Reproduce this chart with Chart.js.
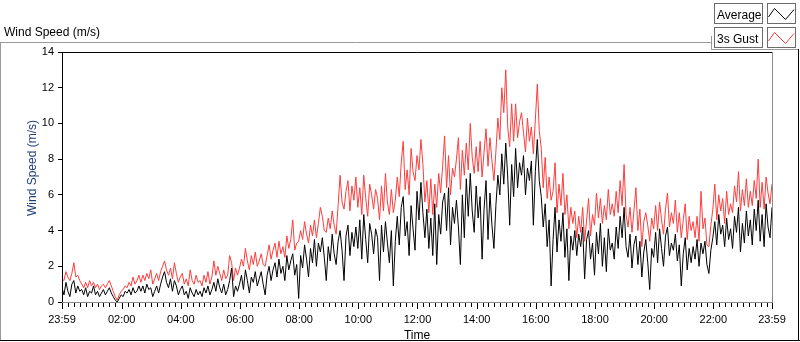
<!DOCTYPE html>
<html>
<head>
<meta charset="utf-8">
<title>Wind Speed (m/s)</title>
<script src="https://cdn.jsdelivr.net/npm/chart.js@4.4.1/dist/chart.umd.min.js"></script>
<style>
  html, body { margin: 0; padding: 0; background: #fff; }
  #wrap { width: 800px; height: 342px; }
</style>
</head>
<body>
<div id="wrap"><canvas id="windChart" width="800" height="342"></canvas></div>
<script>
// one sample every 4 minutes, starting at 23:59 of the previous day
const STEP_MIN = 4;
const MINOR_MIN = 12;

const avgSpeed = [
    0.8, 0.4, 1.1, 0.6, 0.3, 1.0, 1.2, 0.5, 0.9, 0.6,
    0.7, 0.4, 0.8, 0.3, 0.6, 0.5, 0.9, 0.4, 0.6, 0.3,
    0.5, 0.7, 0.4, 0.6, 0.8, 0.5, 0.3, 0.1, 0.0, 0.2,
    0.4, 0.3, 0.6, 0.5, 0.7, 0.4, 0.8, 0.5, 0.6, 0.9,
    0.6, 0.9, 0.5, 1.0, 0.7, 0.8, 0.3, 0.6, 0.9, 0.5,
    1.0, 1.4, 1.7, 1.1, 0.8, 1.3, 0.6, 1.2, 0.9, 0.4,
    0.7, 0.9, 0.4, 0.6, 0.2, 0.8, 0.5, 0.3, 0.7, 0.4,
    0.6, 0.3, 0.8, 0.5, 0.9, 0.4, 0.7, 1.1, 0.6, 1.3,
    0.8, 0.5, 1.0, 0.4, 0.7, 1.2, 1.9, 0.3, 0.9, 0.6,
    1.0, 1.5, 0.7, 1.8, 1.2, 0.5, 1.4, 1.1, 1.7, 0.9,
    1.3, 1.7, 1.0, 0.4, 1.5, 2.0, 1.2, 1.8, 2.2, 1.4,
    2.4, 1.6, 2.0, 1.2, 2.6, 1.8, 2.3, 2.7, 1.5, 2.1,
    0.2, 2.6, 1.9, 3.2, 2.4, 1.4, 3.0, 2.2, 3.5, 2.0,
    3.3, 2.8, 3.6, 2.5, 1.2, 3.1, 2.3, 3.8, 2.7, 2.1,
    3.4, 4.0, 2.9, 1.2, 3.7, 4.3, 2.6, 3.9, 3.1, 4.2,
    3.0, 4.6, 2.4, 4.9, 3.5, 2.2, 4.4, 3.8, 2.7, 4.1,
    3.6, 1.2, 4.3, 2.8, 4.5, 3.3, 2.2, 4.0, 0.9, 3.4,
    4.8, 3.2, 5.3, 5.9, 3.7, 4.5, 2.6, 5.4, 4.1, 2.9,
    6.2, 4.6, 6.7, 5.0, 3.6, 5.2, 3.0, 4.7, 2.6, 5.5,
    2.1, 4.9, 3.8, 5.6, 6.1, 4.0, 6.4, 3.2, 5.3, 4.4,
    5.7, 4.2, 2.1, 6.0, 3.6, 6.9, 4.8, 7.2, 5.1, 3.9,
    6.5, 4.7, 5.9, 2.4, 5.2, 6.8, 3.5, 6.1, 4.3, 3.0,
    5.4, 7.1, 6.0, 8.3, 6.6, 8.9, 7.0, 4.3, 7.7, 5.9,
    8.6, 6.4, 7.8, 7.1, 8.2, 6.0, 7.5, 6.8, 7.9, 4.3,
    7.3, 9.1, 6.8, 5.9, 4.2, 5.5, 3.1, 4.6, 0.9, 3.5,
    5.3, 2.8, 4.6, 3.4, 5.0, 2.5, 4.1, 1.2, 3.7, 2.9,
    4.0, 2.6, 3.8, 3.1, 4.2, 1.3, 3.5, 4.0, 2.4, 3.3,
    1.5, 3.9, 2.7, 4.4, 2.0, 3.6, 1.7, 4.1, 2.9, 3.3,
    2.4, 4.2, 3.0, 4.8, 3.6, 5.3, 3.1, 2.5, 3.8, 1.9,
    3.2, 3.7, 2.1, 3.4, 1.4, 2.8, 3.5, 2.2, 0.7, 3.0,
    2.5, 3.9, 2.2, 4.1, 3.0, 2.0, 3.7, 4.2, 2.6, 3.3,
    2.9, 3.8, 2.3, 3.2, 0.9, 2.7, 3.6, 1.8, 3.0, 2.2,
    3.1, 2.4, 3.5, 2.0, 3.3, 2.7, 3.4, 2.1, 1.6, 2.9,
    3.6, 4.5, 3.2, 4.9, 3.8, 4.3, 3.1, 4.7, 3.5, 4.1,
    3.0, 4.8, 3.9, 5.3, 2.8, 4.4, 3.3, 5.1, 3.7, 4.6,
    3.2, 5.2, 4.0, 5.7, 3.4, 4.9, 3.1, 5.5, 4.2, 3.6, 5.3
];

const gustSpeed = [
    1.3, 1.2, 1.7, 1.4, 1.2, 1.6, 2.2, 1.4, 1.5, 1.2,
    1.0, 0.8, 1.1, 0.8, 1.2, 0.9, 1.1, 0.8, 1.0, 0.7,
    0.9, 1.0, 0.8, 1.0, 1.2, 0.9, 0.6, 0.3, 0.1, 0.4,
    0.6, 0.7, 0.9, 0.8, 1.1, 0.9, 1.4, 1.0, 1.2, 1.5,
    1.1, 1.5, 1.2, 1.6, 1.3, 1.8, 1.0, 1.3, 1.6, 1.2,
    1.7, 2.0, 2.3, 1.8, 1.5, 1.9, 1.3, 2.2, 1.6, 1.1,
    1.4, 1.6, 1.0, 1.3, 0.9, 1.8, 1.2, 1.0, 1.5, 1.1,
    1.2, 0.9, 1.5, 1.1, 1.7, 1.0, 1.4, 2.3, 1.5, 2.0,
    1.6, 1.2, 1.8, 1.3, 1.5, 2.6, 2.2, 1.2, 1.9, 1.5,
    1.9, 2.4, 2.0, 3.0, 2.3, 1.8, 2.6, 2.1, 2.8, 2.0,
    2.3, 2.7, 2.1, 2.0, 2.6, 3.2, 2.4, 2.9, 3.3, 2.5,
    3.4, 2.7, 3.1, 2.5, 3.7, 3.0, 3.5, 4.6, 2.9, 3.3,
    3.4, 4.0, 3.5, 4.5, 3.8, 3.3, 4.3, 3.7, 4.6, 3.6,
    4.4, 5.3, 4.8, 4.0, 3.9, 4.7, 4.1, 5.1, 4.3, 3.8,
    5.4, 7.1, 5.6, 5.2, 6.2, 6.8, 5.1, 6.5, 5.7, 7.0,
    5.3, 6.4, 4.9, 7.1, 5.8, 4.8, 6.6, 6.0, 5.2, 6.3,
    5.8, 4.6, 6.5, 5.1, 7.2, 5.6, 4.9, 6.3, 5.0, 5.7,
    7.0, 5.9, 7.8, 9.0, 6.3, 7.4, 6.0, 8.6, 7.3, 6.8,
    8.2, 7.4, 9.1, 7.7, 5.6, 6.8, 5.0, 6.9, 4.9, 6.6,
    5.3, 7.2, 6.1, 7.6, 9.3, 6.4, 8.2, 6.0, 7.5, 7.0,
    8.0, 9.2, 6.3, 8.5, 7.1, 8.9, 7.4, 10.0, 8.1, 7.2,
    8.7, 7.3, 9.0, 7.0, 8.4, 9.7, 7.6, 9.2, 7.9, 6.8,
    8.4, 10.3, 9.1, 12.0, 10.6, 13.0, 9.8, 8.7, 11.1, 9.0,
    11.1, 9.2, 10.1, 10.6, 9.5, 8.4, 10.3, 9.0, 9.8, 8.3,
    10.2, 12.2, 9.6, 8.6, 6.4, 8.1, 5.8, 7.0, 5.7, 6.2,
    7.8, 5.0, 6.6, 5.4, 7.2, 4.9, 6.0, 4.1, 5.3, 4.4,
    5.1, 3.6, 4.8, 3.9, 5.3, 3.4, 4.6, 5.8, 3.7, 4.9,
    4.3, 6.1, 4.7, 5.8, 4.4, 5.4, 4.6, 6.3, 4.9, 5.5,
    4.8, 6.2, 5.0, 6.8, 5.4, 7.7, 4.9, 4.2, 5.3, 3.9,
    5.1, 6.4, 4.0, 5.2, 3.1, 4.5, 5.0, 4.3, 3.4, 4.7,
    4.1, 5.4, 4.0, 5.6, 4.6, 3.8, 5.2, 6.1, 4.2, 5.0,
    4.4, 5.7, 3.9, 5.0, 3.6, 4.6, 5.5, 3.5, 4.8, 4.0,
    4.5, 3.6, 4.8, 3.4, 6.2, 4.1, 4.7, 3.2, 3.1, 4.3,
    5.2, 6.6, 4.6, 6.0, 5.1, 5.8, 4.4, 6.2, 4.9, 5.5,
    5.0, 6.5, 5.6, 7.3, 5.1, 6.3, 5.4, 6.9, 5.3, 6.2,
    5.4, 6.8, 5.8, 8.0, 5.3, 6.7, 5.2, 7.0, 6.1, 5.5, 6.6
];

// minutes since 23:59 for each labelled tick
const tickMinutes = [0, 121, 241, 361, 481, 601, 721, 841, 961, 1081, 1201, 1321, 1440];
const tickLabels = ['23:59', '02:00', '04:00', '06:00', '08:00', '10:00', '12:00',
                    '14:00', '16:00', '18:00', '20:00', '22:00', '23:59'];

const seriesNames = ['Average', '3s Gust'];
const seriesColors = ['#000000', '#ff3c3c'];

const FONT = "'Liberation Sans', Arial, sans-serif";

function hline(ctx, x1, x2, y) {
    ctx.beginPath(); ctx.moveTo(x1, y); ctx.lineTo(x2, y); ctx.stroke();
}
function vline(ctx, x, y1, y2) {
    ctx.beginPath(); ctx.moveTo(x, y1); ctx.lineTo(x, y2); ctx.stroke();
}

// LabVIEW-ish frame, axis decorations, titles and the legend boxes
const labviewFrame = {
    id: 'labviewFrame',
    afterDraw(chart) {
        const { ctx, chartArea: area } = chart;
        const xs = chart.scales.x;
        ctx.save();
        ctx.lineWidth = 1;

        // outer panel
        ctx.strokeStyle = '#9a9a9a';
        hline(ctx, 0, 711, 42.5);
        vline(ctx, 0.5, 42, 341);
        vline(ctx, 711.5, 36, 50);
        hline(ctx, 711, 799, 49.5);
        ctx.strokeStyle = '#000';
        hline(ctx, 0, 800, 340.5);
        vline(ctx, 798.5, 49, 341);

        // plot frame
        ctx.strokeStyle = '#000';
        hline(ctx, area.left, area.right + 1, area.top + 0.5);
        vline(ctx, area.left + 0.5, area.top, area.bottom + 1);
        ctx.strokeStyle = '#8a8a8a';
        hline(ctx, area.left, area.right + 1, area.bottom + 0.5);
        vline(ctx, area.right + 0.5, area.top, area.bottom + 1);

        // x tick marks, major + minor
        ctx.strokeStyle = '#000';
        tickMinutes.forEach((t, k) => {
            const px = Math.round(xs.getPixelForValue(t)) + 0.5;
            vline(ctx, px, area.bottom + 1, area.bottom + 7);
            const next = tickMinutes[k + 1];
            if (next === undefined) return;
            for (let m = t + MINOR_MIN; m < next - 4; m += MINOR_MIN) {
                const mx = Math.round(xs.getPixelForValue(m)) + 0.5;
                vline(ctx, mx, area.bottom + 1, area.bottom + 5);
            }
        });

        // titles
        ctx.font = '12px ' + FONT;
        ctx.fillStyle = '#000';
        ctx.textBaseline = 'alphabetic';
        ctx.textAlign = 'left';
        ctx.fillText('Wind Speed (m/s)', 4, 36);
        ctx.textAlign = 'center';
        ctx.fillText('Time', (area.left + area.right) / 2, 339);

        ctx.save();
        ctx.translate(36, 168);
        ctx.rotate(-Math.PI / 2);
        ctx.fillStyle = '#1f3f7a';
        ctx.fillText('Wind Speed (m/s)', 0, 0);
        ctx.restore();

        // legend
        seriesNames.forEach((name, k) => {
            const top = 3.5 + k * 24;
            ctx.fillStyle = '#fff';
            ctx.strokeStyle = '#6b6b6b';
            ctx.fillRect(714.5, top, 48, 20);
            ctx.strokeRect(714.5, top, 48, 20);
            ctx.fillRect(767.5, top, 28, 20);
            ctx.strokeRect(767.5, top, 28, 20);

            ctx.fillStyle = '#000';
            ctx.textAlign = 'left';
            ctx.fillText(name, 717, top + 15);

            ctx.strokeStyle = seriesColors[k];
            ctx.beginPath();
            ctx.moveTo(768.5, top + 13.5);
            ctx.lineTo(774.5, top + 5);
            ctx.lineTo(785.5, top + 16);
            ctx.lineTo(794, top + 6);
            ctx.stroke();
        });

        ctx.restore();
    }
};

const toPoints = arr => arr.map((v, i) => ({ x: i * STEP_MIN, y: v }));

document.addEventListener('DOMContentLoaded', function() {
    const ctx = document.getElementById('windChart');

    new Chart(ctx, {
        type: 'line',
        data: {
            datasets: [
                {
                    label: seriesNames[0],
                    data: toPoints(avgSpeed),
                    borderColor: seriesColors[0],
                    borderWidth: 1,
                    pointRadius: 0,
                    tension: 0
                },
                {
                    label: seriesNames[1],
                    data: toPoints(gustSpeed),
                    borderColor: seriesColors[1],
                    borderWidth: 1,
                    pointRadius: 0,
                    tension: 0
                }
            ]
        },
        options: {
            responsive: false,
            animation: false,
            events: [],
            layout: { padding: { top: 52, right: 28, left: 0, bottom: 0 } },
            plugins: {
                legend: { display: false },
                tooltip: { enabled: false }
            },
            scales: {
                x: {
                    type: 'linear',
                    min: 0,
                    max: 1440,
                    afterFit: s => { s.height = 40; },
                    afterBuildTicks: s => { s.ticks = tickMinutes.map(v => ({ value: v })); },
                    border: { display: false },
                    grid: { display: false, drawTicks: true, tickLength: 4 },
                    ticks: {
                        autoSkip: false,
                        maxRotation: 0,
                        padding: 7,
                        color: '#000',
                        font: { family: FONT, size: 11 },
                        callback: (value, index) => tickLabels[index]
                    }
                },
                y: {
                    min: 0,
                    max: 14,
                    afterFit: s => { s.width = 62; },
                    border: { display: false },
                    grid: {
                        display: true,
                        drawOnChartArea: false,
                        drawTicks: true,
                        tickLength: 4,
                        color: '#000'
                    },
                    ticks: {
                        stepSize: 2,
                        padding: 4,
                        color: '#000',
                        font: { family: FONT, size: 11 }
                    }
                }
            }
        },
        plugins: [labviewFrame]
    });
});
</script>
</body>
</html>
